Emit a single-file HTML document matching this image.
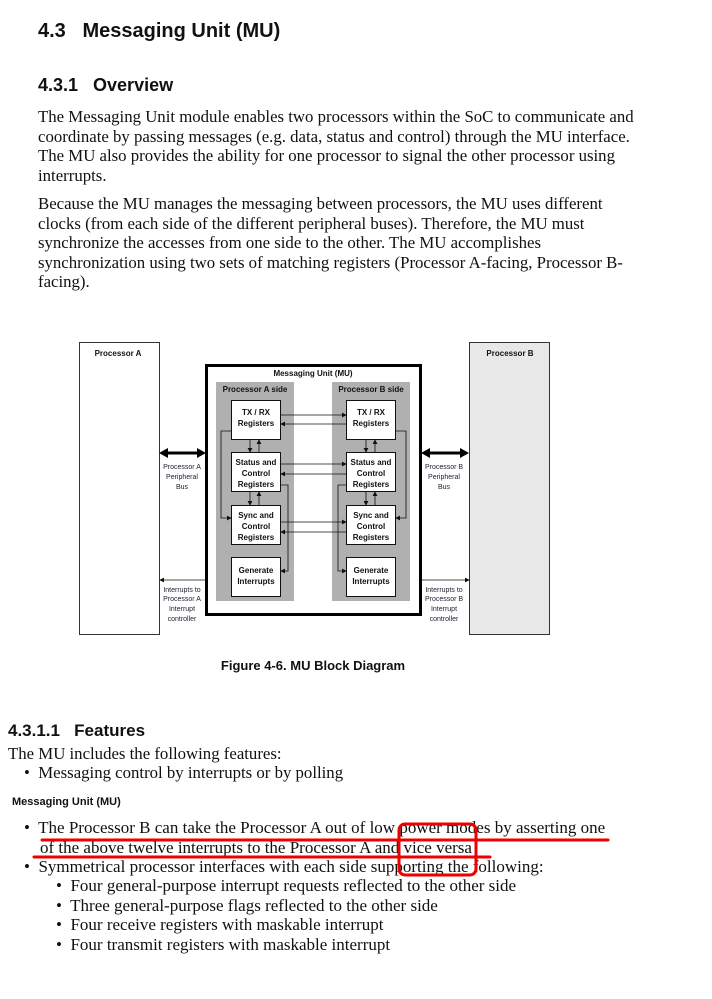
<!DOCTYPE html>
<html><head><meta charset="utf-8"><style>
body{margin:0;width:712px;height:999px;background:#fff;position:relative;overflow:hidden}
.a{position:absolute;white-space:nowrap}
.s{font-family:"Liberation Sans",sans-serif;font-weight:bold;color:#111}
.t{font-family:"Liberation Serif",serif;font-size:16.8px;color:#111;line-height:19.5px}
.u{font-size:17px}
</style></head><body>
<div class="a s" style="left:38px;top:20px;font-size:20px">4.3&nbsp;&nbsp; Messaging Unit (MU)</div>
<div class="a s" style="left:38px;top:75px;font-size:18px">4.3.1&nbsp;&nbsp; Overview</div>
<div class="a t" style="left:38px;top:107px">The Messaging Unit module enables two processors within the SoC to communicate and<br>coordinate by passing messages (e.g. data, status and control) through the MU interface.<br>The MU also provides the ability for one processor to signal the other processor using<br>interrupts.</div>
<div class="a t" style="left:38px;top:194px">Because the MU manages the messaging between processors, the MU uses different<br>clocks (from each side of the different peripheral buses). Therefore, the MU must<br>synchronize the accesses from one side to the other. The MU accomplishes<br>synchronization using two sets of matching registers (Processor A-facing, Processor B-<br>facing).</div>

<svg class="a" style="left:0;top:330px" width="712" height="310" viewBox="0 330 712 310" font-family="Liberation Sans, sans-serif" font-weight="bold" font-size="8" fill="#111">
<defs><marker id="m" markerWidth="6" markerHeight="6" refX="5" refY="3" orient="auto"><path d="M0,0L6,3L0,6z" fill="#111"/></marker></defs>
<rect x="79.5" y="342.5" width="80" height="292" fill="#fff" stroke="#333"/>
<rect x="469.5" y="342.5" width="80" height="292" fill="#e8e8e8" stroke="#333"/>
<text x="118" y="356" text-anchor="middle">Processor A</text>
<text x="510" y="356" text-anchor="middle">Processor B</text>
<rect x="206.5" y="365.5" width="214" height="249" fill="#fff" stroke="#000" stroke-width="3"/>
<text x="313" y="376" text-anchor="middle">Messaging Unit (MU)</text>
<rect x="216" y="382" width="78" height="219" fill="#b0b0b0"/>
<rect x="332" y="382" width="78" height="219" fill="#b0b0b0"/>
<text x="255" y="392" text-anchor="middle">Processor A  side</text>
<text x="371" y="392" text-anchor="middle">Processor B side</text>
<g fill="#fff" stroke="#111">
<rect x="231.5" y="400.5" width="49" height="39"/><rect x="231.5" y="452.5" width="49" height="39"/>
<rect x="231.5" y="505.5" width="49" height="39"/><rect x="231.5" y="557.5" width="49" height="39"/>
<rect x="346.5" y="400.5" width="49" height="39"/><rect x="346.5" y="452.5" width="49" height="39"/>
<rect x="346.5" y="505.5" width="49" height="39"/><rect x="346.5" y="557.5" width="49" height="39"/>
</g>
<g text-anchor="middle">
<text x="256" y="415">TX / RX</text><text x="256" y="426">Registers</text>
<text x="256" y="465">Status and</text><text x="256" y="476">Control</text><text x="256" y="487">Registers</text>
<text x="256" y="518">Sync and</text><text x="256" y="529">Control</text><text x="256" y="540">Registers</text>
<text x="256" y="573">Generate</text><text x="256" y="584">Interrupts</text>
<text x="371" y="415">TX / RX</text><text x="371" y="426">Registers</text>
<text x="371" y="465">Status and</text><text x="371" y="476">Control</text><text x="371" y="487">Registers</text>
<text x="371" y="518">Sync and</text><text x="371" y="529">Control</text><text x="371" y="540">Registers</text>
<text x="371" y="573">Generate</text><text x="371" y="584">Interrupts</text>
</g>
<g stroke="#111" stroke-width="0.8" fill="none" marker-end="url(#m)">
<line x1="281" y1="415" x2="346" y2="415"/><line x1="346" y1="424" x2="281" y2="424"/>
<line x1="281" y1="464" x2="346" y2="464"/><line x1="346" y1="474" x2="281" y2="474"/>
<line x1="281" y1="522" x2="346" y2="522"/><line x1="346" y1="532" x2="281" y2="532"/>
<line x1="250" y1="440" x2="250" y2="452"/><line x1="259" y1="452" x2="259" y2="440"/>
<line x1="250" y1="492" x2="250" y2="505"/><line x1="259" y1="505" x2="259" y2="492"/>
<line x1="366" y1="440" x2="366" y2="452"/><line x1="375" y1="452" x2="375" y2="440"/>
<line x1="366" y1="492" x2="366" y2="505"/><line x1="375" y1="505" x2="375" y2="492"/>
<polyline points="231,431 221,431 221,518 231,518"/>
<polyline points="281,485 288,485 288,571 281,571"/>
<polyline points="396,431 406,431 406,518 396,518"/>
<polyline points="346,485 338,485 338,571 346,571"/>
<line x1="206" y1="580" x2="160" y2="580"/>
<line x1="421" y1="580" x2="469" y2="580"/>
</g>
<path d="M159,453l9,-5v10z M206,453l-9,-5v10z M421,453l9,-5v10z M469,453l-9,-5v10z" fill="#000"/>
<line x1="166" y1="453" x2="199" y2="453" stroke="#000" stroke-width="3"/>
<line x1="428" y1="453" x2="462" y2="453" stroke="#000" stroke-width="3"/>
<g font-weight="normal" font-size="7" text-anchor="middle" fill="#223">
<text x="182" y="469">Processor A</text><text x="182" y="479">Peripheral</text><text x="182" y="489">Bus</text>
<text x="444" y="469">Processor B</text><text x="444" y="479">Peripheral</text><text x="444" y="489">Bus</text>
<text x="182" y="592">Interrupts to</text><text x="182" y="601">Processor A</text><text x="182" y="611">Interrupt</text><text x="182" y="621">controller</text>
<text x="444" y="592">Interrupts to</text><text x="444" y="601">Processor B</text><text x="444" y="611">Interrupt</text><text x="444" y="621">controller</text>
</g>
</svg>

<div class="a s" style="left:0;width:626px;text-align:center;top:658px;font-size:13px">Figure 4-6. MU Block Diagram</div>
<div class="a s" style="left:8px;top:721px;font-size:17px">4.3.1.1&nbsp;&nbsp; Features</div>
<div class="a t" style="left:8px;top:744px">The MU includes the following features:</div>
<div class="a t" style="left:24px;top:763px">•&nbsp; Messaging control by interrupts or by polling</div>
<div class="a s" style="left:12px;top:796px;font-size:11px">Messaging Unit (MU)</div>
<div class="a t u" style="left:24px;top:818px">•&nbsp; The Processor B can take the Processor A out of low power modes by asserting one<br><span style="padding-left:16px">of the above twelve interrupts to the Processor A and vice versa</span><br>•&nbsp; Symmetrical processor interfaces with each side supporting the following:</div>
<div class="a t u" style="left:56px;top:876px">•&nbsp; Four general-purpose interrupt requests reflected to the other side<br>•&nbsp; Three general-purpose flags reflected to the other side<br>•&nbsp; Four receive registers with maskable interrupt<br>•&nbsp; Four transmit registers with maskable interrupt</div>
<svg class="a" style="left:0;top:815px" width="712" height="70">
<line x1="42" y1="25" x2="608" y2="25" stroke="#e00" stroke-width="3" stroke-linecap="round"/>
<line x1="34" y1="42" x2="490" y2="42" stroke="#e00" stroke-width="3" stroke-linecap="round"/>
<rect x="399" y="9" width="77" height="51" rx="6" fill="none" stroke="#e00" stroke-width="3"/>
</svg>
</body></html>
